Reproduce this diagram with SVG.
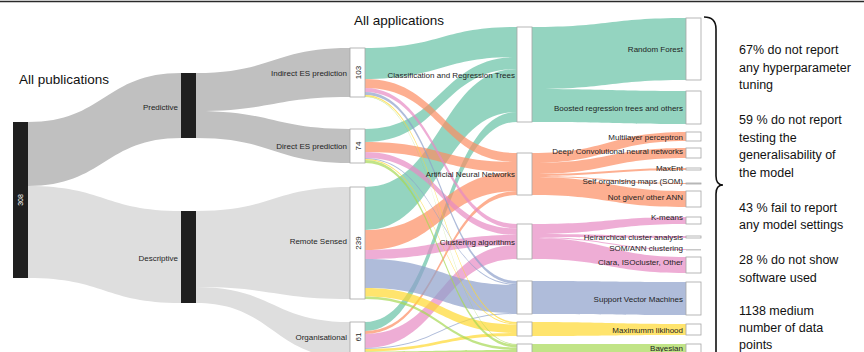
<svg xmlns="http://www.w3.org/2000/svg" width="864" height="352" viewBox="0 0 864 352">
<style>
  text { font-family: "Liberation Sans", Arial, sans-serif; fill: #1e1e1e; }
  .lbl { font-size: 8px; text-anchor: end; }
  .num { font-size: 8px; text-anchor: middle; }
  .title { font-size: 13.5px; fill: #111; }
  .note { font-size: 12.5px; fill: #111; }
  .nb { fill: #1f1f1f; }
  .nw { fill: #ffffff; stroke: #a6a6a6; stroke-width: 0.8; }
  .gp { fill: #c0c0c0; }
  .gd { fill: #dedede; }
  .ct { fill: #66c2a5; fill-opacity: 0.7; }
  .ca { fill: #fc8d62; fill-opacity: 0.7; }
  .cc { fill: #e78ac3; fill-opacity: 0.7; }
  .cs { fill: #8da0cb; fill-opacity: 0.7; }
  .cy { fill: #ffd92f; fill-opacity: 0.7; }
  .cg { fill: #a6d854; fill-opacity: 0.7; }
</style>

<line x1="0" y1="1.5" x2="864" y2="1.5" stroke="#2a2a2a" stroke-width="1.5"/>

<g id="connectors">
  <!-- level 1 -> 2 -->
  <path class="gp" d="M28,122 C104.5,122 104.5,73 181,73 L181,138 C104.5,138 104.5,186 28,186 Z"/>
  <path class="gd" d="M28,186 C104.5,186 104.5,211 181,211 L181,303 C104.5,303 104.5,278 28,278 Z"/>
  <!-- level 2 -> 3 -->
  <path class="gp" d="M196,73 C273,73 273,48 350,48 L350,97 C273,97 273,111 196,111 Z"/>
  <path class="gp" d="M196,111 C273,111 273,129 350,129 L350,163 C273,163 273,138 196,138 Z"/>
  <path class="gd" d="M196,211 C273,211 273,187 350,187 L350,299 C273,299 273,287 196,287 Z"/>
  <path class="gd" d="M196,287 C273,287 273,322 350,322 L350,358 C273,358 273,303 196,303 Z"/>

  <!-- level 3 -> 4 : CART (teal) -->
  <path class="ct" d="M365,48 C441,48 441,27 517,27 L517,57 C441,57 441,79 365,79 Z"/>
  <path class="ct" d="M365,129 C441,129 441,57 517,57 L517,69 C441,69 441,142 365,142 Z"/>
  <path class="ct" d="M365,187 C441,187 441,69 517,69 L517,112 C441,112 441,230 365,230 Z"/>
  <path class="ct" d="M365,322 C441,322 441,112 517,112 L517,122 C441,122 441,331 365,331 Z"/>
  <!-- ANN (salmon) -->
  <path class="ca" d="M365,79 C441,79 441,153 517,153 L517,162 C441,162 441,88 365,88 Z"/>
  <path class="ca" d="M365,142 C441,142 441,162 517,162 L517,172 C441,172 441,152 365,152 Z"/>
  <path class="ca" d="M365,230 C441,230 441,172 517,172 L517,191 C441,191 441,250 365,250 Z"/>
  <path class="ca" d="M365,331 C441,331 441,191 517,191 L517,195 C441,195 441,334 365,334 Z"/>
  <!-- Clustering (pink) -->
  <path class="cc" d="M365,88 C441,88 441,224 517,224 L517,228.5 C441,228.5 441,92 365,92 Z"/>
  <path class="cc" d="M365,152 C441,152 441,228.5 517,228.5 L517,235 C441,235 441,158 365,158 Z"/>
  <path class="cc" d="M365,250 C441,250 441,235 517,235 L517,245 C441,245 441,259 365,259 Z"/>
  <path class="cc" d="M365,334 C441,334 441,245 517,245 L517,259 C441,259 441,348 365,348 Z"/>
  <!-- SVM (blue) -->
  <path class="cs" d="M365,92 C441,92 441,281 517,281 L517,284 C441,284 441,95 365,95 Z"/>
  <path class="cs" d="M365,158 C441,158 441,284 517,284 L517,285 C441,285 441,159 365,159 Z"/>
  <path class="cs" d="M365,259 C441,259 441,285 517,285 L517,313 C441,313 441,288 365,288 Z"/>
  <path class="cs" d="M365,348 C441,348 441,313 517,313 L517,314 C441,314 441,349 365,349 Z"/>
  <!-- Maximum likelihood (yellow) -->
  <path class="cy" d="M365,95 C441,95 441,322 517,322 L517,323.5 C441,323.5 441,96.5 365,96.5 Z"/>
  <path class="cy" d="M365,159 C441,159 441,323.5 517,323.5 L517,324.5 C441,324.5 441,160 365,160 Z"/>
  <path class="cy" d="M365,288 C441,288 441,324.5 517,324.5 L517,333 C441,333 441,296.5 365,296.5 Z"/>
  <path class="cy" d="M365,349 C441,349 441,333 517,333 L517,336 C441,336 441,351.5 365,351.5 Z"/>
  <!-- Bayesian (green) -->
  <path class="cg" d="M365,96.5 C441,96.5 441,344 517,344 L517,344.7 C441,344.7 441,97 365,97 Z"/>
  <path class="cg" d="M365,160 C441,160 441,344.7 517,344.7 L517,347.5 C441,347.5 441,163 365,163 Z"/>
  <path class="cg" d="M365,296.5 C441,296.5 441,347.5 517,347.5 L517,350 C441,350 441,299 365,299 Z"/>
  <path class="cg" d="M365,351.5 C441,351.5 441,350 517,350 L517,353 C441,353 441,354 365,354 Z"/>

  <!-- level 4 -> 5 -->
  <path class="ct" d="M532,27 C609,27 609,18 686,18 L686,80 C609,80 609,89 532,89 Z"/>
  <path class="ct" d="M532,89 C609,89 609,91 686,91 L686,124 C609,124 609,122 532,122 Z"/>
  <path class="ca" d="M532,153 C609,153 609,132 686,132 L686,141 C609,141 609,163 532,163 Z"/>
  <path class="ca" d="M532,163 C609,163 609,148 686,148 L686,158 C609,158 609,174 532,174 Z"/>
  <path class="ca" d="M532,174 C609,174 609,168 686,168 L686,170 C609,170 609,176 532,176 Z"/>
  <path class="ca" d="M532,176 C609,176 609,183 686,183 L686,184 C609,184 609,177 532,177 Z"/>
  <path class="ca" d="M532,177 C609,177 609,191 686,191 L686,207 C609,207 609,195 532,195 Z"/>
  <path class="cc" d="M532,224 C609,224 609,217 686,217 L686,224 C609,224 609,234 532,234 Z"/>
  <path class="cc" d="M532,234 C609,234 609,236 686,236 L686,238 C609,238 609,237 532,237 Z"/>
  <path class="cc" d="M532,237 C609,237 609,249 686,249 L686,250 C609,250 609,238 532,238 Z"/>
  <path class="cc" d="M532,238 C609,238 609,257 686,257 L686,273 C609,273 609,259 532,259 Z"/>
  <path class="cs" d="M532,281 C609,281 609,282 686,282 L686,315 C609,315 609,314 532,314 Z"/>
  <path class="cy" d="M532,322 C609,322 609,324 686,324 L686,335 C609,335 609,336 532,336 Z"/>
  <path class="cg" d="M532,344 C609,344 609,344 686,344 L686,356 C609,356 609,356 532,356 Z"/>
</g>

<g id="n-all"><rect class="nb" x="13" y="122" width="15" height="156"/>
  <text transform="translate(23,200) rotate(-90)" style="font-size:7px;fill:#fff;text-anchor:middle">308</text></g>
<g id="n-predictive"><rect class="nb" x="181" y="73" width="15" height="65"/><text class="lbl" x="178" y="110">Predictive</text></g>
<g id="n-descriptive"><rect class="nb" x="181" y="211" width="15" height="92"/><text class="lbl" x="178" y="261">Descriptive</text></g>

<g id="n-indirect"><rect class="nw" x="350" y="48" width="15" height="49"/><text class="lbl" x="347" y="76">Indirect ES prediction</text>
  <text class="num" transform="translate(360.5,72.5) rotate(-90)">103</text></g>
<g id="n-direct"><rect class="nw" x="350" y="129" width="15" height="34"/><text class="lbl" x="347" y="149">Direct ES prediction</text>
  <text class="num" transform="translate(360.5,146) rotate(-90)">74</text></g>
<g id="n-remote"><rect class="nw" x="350" y="187" width="15" height="112"/><text class="lbl" x="347" y="244">Remote Sensed</text>
  <text class="num" transform="translate(360.5,243) rotate(-90)">239</text></g>
<g id="n-organisational"><rect class="nw" x="350" y="322" width="15" height="36"/><text class="lbl" x="347" y="340">Organisational</text>
  <text class="num" transform="translate(360.5,337) rotate(-90)">61</text></g>

<g id="n-cart"><rect class="nw" x="517" y="27" width="15" height="95"/><text class="lbl" x="515" y="78">Classification and Regression Trees</text></g>
<g id="n-ann"><rect class="nw" x="517" y="153" width="15" height="42"/><text class="lbl" x="515" y="177">Artificial Neural Networks</text></g>
<g id="n-clustering"><rect class="nw" x="517" y="224" width="15" height="35"/><text class="lbl" x="515" y="245">Clustering algorithms</text></g>
<g id="n-svm-group"><rect class="nw" x="517" y="281" width="15" height="33"/></g>
<g id="n-ml-group"><rect class="nw" x="517" y="322" width="15" height="14"/></g>
<g id="n-bayes-group"><rect class="nw" x="517" y="344" width="15" height="12"/></g>

<g id="n-rf"><rect class="nw" x="686" y="18" width="15" height="62"/><text class="lbl" x="683" y="52">Random Forest</text></g>
<g id="n-brt"><rect class="nw" x="686" y="91" width="15" height="33"/><text class="lbl" x="683" y="111">Boosted regression trees and others</text></g>
<g id="n-mlp"><rect class="nw" x="686" y="132" width="15" height="9"/><text class="lbl" x="683" y="140">Multilayer perceptron</text></g>
<g id="n-deep"><rect class="nw" x="686" y="148" width="15" height="10"/><text class="lbl" x="683" y="154">Deep/ Convolutional neural networks</text></g>
<g id="n-maxent"><rect class="nw" x="686" y="168" width="15" height="2"/><text class="lbl" x="683" y="171">MaxEnt</text></g>
<g id="n-som"><rect class="nw" x="686" y="183" width="15" height="1"/><text class="lbl" x="683" y="184">Self organising maps (SOM)</text></g>
<g id="n-notgiven"><rect class="nw" x="686" y="191" width="15" height="16"/><text class="lbl" x="683" y="200">Not given/ other ANN</text></g>
<g id="n-kmeans"><rect class="nw" x="686" y="217" width="15" height="7"/><text class="lbl" x="683" y="220">K-means</text></g>
<g id="n-hca"><rect class="nw" x="686" y="236" width="15" height="2"/><text class="lbl" x="683" y="240">Heirarchical cluster analysis</text></g>
<g id="n-somann"><rect x="686" y="249" width="15" height="1.5" fill="#c8c8c8"/><text class="lbl" x="683" y="251">SOM/ANN clustering</text></g>
<g id="n-clara"><rect class="nw" x="686" y="257" width="15" height="16"/><text class="lbl" x="683" y="265">Clara, ISOcluster, Other</text></g>
<g id="n-svm"><rect class="nw" x="686" y="282" width="15" height="33"/><text class="lbl" x="683" y="302">Support Vector Machines</text></g>
<g id="n-ml"><rect class="nw" x="686" y="324" width="15" height="11"/><text class="lbl" x="683" y="333">Maximumm likihood</text></g>
<g id="n-bayes"><rect class="nw" x="686" y="344" width="15" height="12"/><text class="lbl" x="683" y="351">Bayesian</text></g>

<text class="title" x="19" y="84">All publications</text>
<text class="title" x="354" y="25">All applications</text>

<path d="M704,17 Q716,17 716,29 L716,176 Q716,185 723,185 Q716,185 716,194 L716,360" fill="none" stroke="#111" stroke-width="1.6"/>

<g id="notes">
  <text class="note" x="739" y="54">67% do not report</text>
  <text class="note" x="739" y="71.5">any hyperparameter</text>
  <text class="note" x="739" y="89">tuning</text>
  <text class="note" x="739" y="124">59 % do not report</text>
  <text class="note" x="739" y="141.5">testing the</text>
  <text class="note" x="739" y="159">generalisability of</text>
  <text class="note" x="739" y="176.5">the model</text>
  <text class="note" x="739" y="211.5">43 % fail to report</text>
  <text class="note" x="739" y="229">any model settings</text>
  <text class="note" x="739" y="264">28 % do not show</text>
  <text class="note" x="739" y="281.5">software used</text>
  <text class="note" x="739" y="315">1138 medium</text>
  <text class="note" x="739" y="332">number of data</text>
  <text class="note" x="739" y="348.5">points</text>
</g>
</svg>
